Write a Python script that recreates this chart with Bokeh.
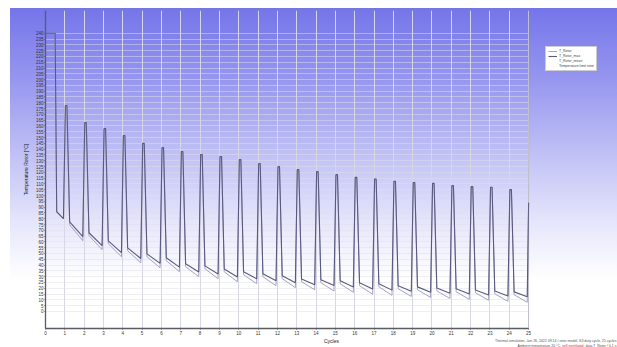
from bokeh.plotting import figure
from bokeh.models import FixedTicker, Range1d, Legend, LegendItem, Div, BoxAnnotation
from bokeh.layouts import column
from bokeh.embed import file_html
from bokeh.resources import INLINE

# ---------------- data ----------------
cycles = list(range(1, 25))
x_ticks = list(range(0, 26))
y_ticks = list(range(0, 245, 5))
x_last = 25          # the record ends at cycle 25 ...
v_last = 93.8        # ... half way up the 25th heating edge

# start phase (time in cycles, temperature)
start_t = [0.0, 0.5, 0.58]
start_v = [240.0, 240.0, 86.0]

# peak reached in every cycle
peak = [177.6, 162.9, 157.7, 151.7, 145.0, 141.3, 137.9, 135.3, 133.6, 131.0,
        127.5, 124.9, 122.3, 120.6, 118.0, 115.7, 114.3, 112.2, 111.3, 110.5,
        108.5, 107.7, 107.1, 105.1]

# series A (dark): value at end of steep fall, and value at end of cycle
knee_a = [77.3, 67.9, 60.9, 54.9, 49.7, 46.3, 41.1, 39.3, 36.7, 34.2,
          32.5, 30.8, 28.1, 27.3, 26.4, 24.7, 23.8, 22.1, 21.2, 20.3,
          19.5, 18.6, 17.7, 16.9]
trough_a = [80.0, 64.5, 56.8, 50.8, 45.7, 41.5, 38.2, 34.0, 32.3, 29.8, 28.1,
            26.4, 24.8, 23.1, 22.3, 21.0, 19.4, 18.4, 17.5, 16.6, 15.8,
            15.0, 14.2, 13.4, 12.6]

# series B (light)
knee_b = [74.8, 65.4, 58.4, 52.4, 47.2, 43.8, 38.6, 36.8, 34.2, 31.7,
          30.0, 28.3, 25.6, 24.8, 23.9, 22.2, 21.3, 19.6, 18.7, 17.8,
          17.0, 16.1, 15.2, 14.4]
trough_b = [80.0, 61.0, 53.3, 47.2, 42.0, 37.7, 34.3, 30.0, 28.2, 25.6, 23.9,
            22.2, 20.5, 18.7, 17.6, 16.5, 14.8, 13.9, 13.0, 12.1, 11.2,
            10.4, 9.6, 8.7, 7.9]

# phase (fraction of a cycle) of the characteristic points
ph_peak_on, ph_peak_off, ph_knee, ph_trough = 0.03, 0.11, 0.25, 0.93

series_names = ["T_Rotor", "T_Rotor_max", "T_Rotor_mean", "Temperature limit rotor"]
foot_line1 = "Thermal simulation, Jan 26, 2022 09:14 / rotor model, S3 duty cycle, 25 cycles"
foot_line2a = "Ambient temperature 20 °C,"
foot_line2b = "self-ventilated"
foot_line2c = ", data T_Rotor / 0.1 s"


def build(knee, trough):
    t = list(start_t) + [ph_trough]
    v = list(start_v) + [trough[0]]
    for i, k in enumerate(cycles):
        t += [k + ph_peak_on, k + ph_peak_off, k + ph_knee, k + ph_trough]
        v += [peak[i], peak[i], knee[i], trough[i + 1]]
    t.append(x_last)
    v.append(v_last)
    return t, v


ta, va = build(knee_a, trough_a)
tb, vb = build(knee_b, trough_b)

# ---------------- figure ----------------
grad = ("linear-gradient(180deg, #7575ea 0%, #9898f0 22%, #c2c2f6 44%, "
        "#e7e7fc 64%, #ffffff 80%, #ffffff 100%)")
x_view_end = 29.6   # frame runs on to the right edge; the chart box ends at 25
y_lo, y_hi = -14.7, 259.6
p = figure(width=617, height=347, output_backend="svg", toolbar_location=None,
           x_range=Range1d(0, x_view_end), y_range=Range1d(y_lo, y_hi),
           min_border_left=45, min_border_right=0, min_border_top=10,
           min_border_bottom=19,
           styles={"background-image": grad, "background-repeat": "no-repeat",
                   "background-position": "10px 8px", "background-size": "607px 339px"})
p.border_fill_alpha = 0
p.background_fill_alpha = 0
p.outline_line_color = None

p.xaxis.ticker = FixedTicker(ticks=x_ticks)
p.yaxis.ticker = FixedTicker(ticks=y_ticks)
p.xgrid.grid_line_color = "#d6d6e4"
p.xgrid.grid_line_width = 1
p.ygrid.grid_line_color = "#dedeea"
p.ygrid.grid_line_width = 0.5
p.ygrid.cross_bounds = (0, 25)
p.xaxis.bounds = (0, 25)

for ax in (p.xaxis[0], p.yaxis[0]):
    ax.major_label_text_font = "Liberation Sans"
    ax.major_label_text_font_size = "4.5px"
    ax.major_label_text_color = "#333333"
    ax.axis_label_text_font = "Liberation Sans"
    ax.axis_label_text_font_size = "5px"
    ax.axis_label_text_font_style = "normal"
    ax.axis_label_text_color = "#222222"
    ax.axis_line_color = "#55555f"
    ax.axis_line_width = 1.3
    ax.major_tick_line_color = "#55555f"
    ax.minor_tick_line_color = None
    ax.major_tick_out = 1
    ax.major_tick_in = 0
    ax.major_label_standoff = 1

p.xaxis.axis_label = "Cycles"
p.xaxis.axis_label_standoff = 0
p.yaxis.axis_label = "Temperature Rotor [°C]"
p.yaxis.axis_label_standoff = 4

box = BoxAnnotation(left=0, right=25, bottom=y_lo, top=y_hi, fill_alpha=0,
                    line_color="#85858f", line_width=1)
p.add_layout(box)

rb = p.line(tb, vb, line_color="#a4a4c2", line_width=1.0)
ra = p.line(ta, va, line_color="#5a5a80", line_width=1.1)
rc = p.line(ta, va, line_color="#5a5a80", line_width=1.1, line_alpha=0.0)
rl = p.line([], [], line_color="#e8c04a", line_width=1.2)

legend = Legend(items=[LegendItem(label=series_names[0], renderers=[rb]),
                       LegendItem(label=series_names[1], renderers=[ra]),
                       LegendItem(label=series_names[2], renderers=[rc]),
                       LegendItem(label=series_names[3], renderers=[rl])],
                location=(500, 257))
legend.label_text_font = "Liberation Sans"
legend.label_text_font_size = "3.5px"
legend.label_height = 4
legend.glyph_height = 4
legend.glyph_width = 9
legend.label_standoff = 2
legend.spacing = 1
legend.padding = 2
legend.margin = 0
legend.border_line_color = "#9a9aa8"
legend.border_line_width = 0.6
legend.background_fill_color = "white"
legend.background_fill_alpha = 1
p.add_layout(legend)

foot = Div(text=(f"<div>{foot_line1}</div><div>{foot_line2a} "
                 f"<span style='color:#c23a3a'>{foot_line2b}</span>{foot_line2c}</div>"),
           styles={"position": "absolute", "left": "490px", "top": "334px",
                   "width": "120px", "font-size": "3.5px", "line-height": "4.5px",
                   "color": "#555555", "font-family": "Liberation Sans",
                   "text-align": "right", "white-space": "nowrap"})

layout = column(p, foot)
open("out.html", "w").write(file_html(layout, INLINE))
